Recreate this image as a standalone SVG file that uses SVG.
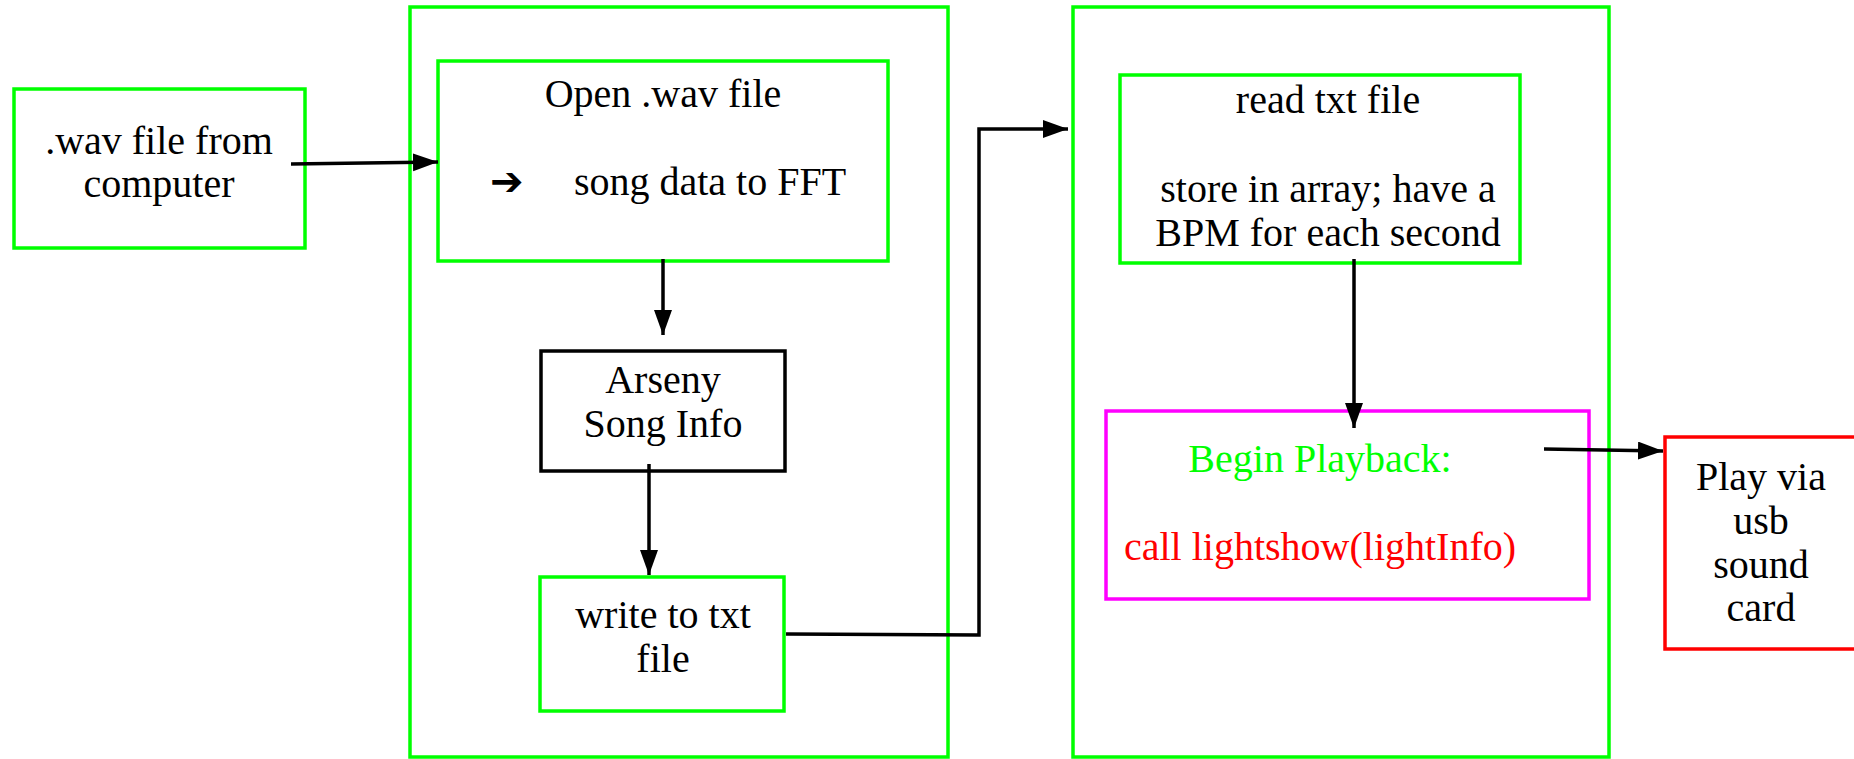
<svg xmlns="http://www.w3.org/2000/svg" width="1854" height="759" viewBox="0 0 1854 759">
<style>
text{font-family:"Liberation Serif","Times New Roman",serif;font-size:40px;fill:#000;text-anchor:middle}
.g{fill:none;stroke:#00ff00;stroke-width:3.5}
.k{fill:none;stroke:#000;stroke-width:3.5}
.m{fill:none;stroke:#ff00ff;stroke-width:3.5}
.r{fill:none;stroke:#ff0000;stroke-width:3.5}
.c{fill:none;stroke:#000;stroke-width:3.5}
</style>
<defs>
<marker id="ah" markerUnits="userSpaceOnUse" markerWidth="26" markerHeight="20" refX="25" refY="9" orient="auto" viewBox="0 0 26 20">
<path d="M0,0 L25,9 L0,18 z" fill="#000"/>
</marker>
</defs>
<rect width="1854" height="759" fill="#fff"/>
<g id="container1"><rect class="g" x="410" y="7" width="538" height="750"/></g>
<g id="container2"><rect class="g" x="1073" y="7" width="536" height="750"/></g>
<g id="wav-source">
<rect class="g" x="14" y="89" width="291" height="159"/>
<text x="159" y="154">.wav file from</text>
<text x="159" y="197">computer</text>
</g>
<g id="open-wav">
<rect class="g" x="438" y="61" width="450" height="200"/>
<text x="663" y="107">Open .wav file</text>
<text x="507" y="195">➔</text>
<text x="710" y="195">song data to FFT</text>
</g>
<g id="arseny">
<rect class="k" x="541" y="351" width="244" height="120"/>
<text x="663" y="393">Arseny</text>
<text x="663" y="437">Song Info</text>
</g>
<g id="write-txt">
<rect class="g" x="540" y="577" width="244" height="134"/>
<text x="663" y="628">write to txt</text>
<text x="663" y="672">file</text>
</g>
<g id="read-txt">
<rect class="g" x="1120" y="75" width="400" height="188"/>
<text x="1328" y="113">read txt file</text>
<text x="1328" y="202">store in array; have a</text>
<text x="1328" y="246">BPM for each second</text>
</g>
<g id="playback">
<rect class="m" x="1106" y="411" width="483" height="188"/>
<text x="1320" y="472" style="fill:#00ff00">Begin Playback:</text>
<text x="1320" y="560" style="fill:#ff0000">call lightshow(lightInfo)</text>
</g>
<g id="play-usb">
<rect class="r" x="1665" y="437" width="195" height="212"/>
<text x="1761" y="490">Play via</text>
<text x="1761" y="534">usb</text>
<text x="1761" y="578">sound</text>
<text x="1761" y="621">card</text>
</g>
<g id="connectors">
<line class="c" x1="291" y1="164" x2="438" y2="162" stroke-width="4.5" marker-end="url(#ah)"/>
<line class="c" x1="663" y1="259" x2="663" y2="335" marker-end="url(#ah)"/>
<line class="c" x1="649" y1="464" x2="649" y2="575" marker-end="url(#ah)"/>
<polyline class="c" points="786,634 979,635 979,129 1068,129" marker-end="url(#ah)"/>
<line class="c" x1="1354" y1="259" x2="1354" y2="428" marker-end="url(#ah)"/>
<line class="c" x1="1544" y1="449" x2="1663" y2="451" stroke-width="4.5" marker-end="url(#ah)"/>
</g>
</svg>
